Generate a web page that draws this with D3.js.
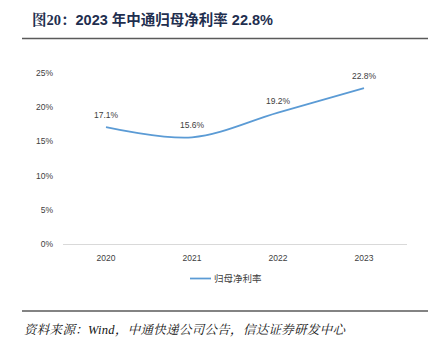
<!DOCTYPE html>
<html><head><meta charset="utf-8">
<script src="https://cdn.jsdelivr.net/npm/d3@7"></script>
<style>body{margin:0;background:#fff}svg{display:block}</style>
</head><body>
<svg id="c" width="441" height="351"></svg>
<script>
const years = ["2020","2021","2022","2023"];
const netMargin = [17.1, 15.6, 19.2, 22.8];
const yTicks = [0,5,10,15,20,25];
const seriesName = "归母净利率";
const titlePrefix = "图20：";
const titleText = "2023 年中通归母净利率 22.8%";
const sourceText = "资料来源：Wind，中通快递公司公告，信达证券研发中心";

const svg = d3.select("#c");
const x = d3.scaleBand().domain(years).range([63,407]);
const y = d3.scaleLinear().domain([0,25]).range([244,73]);
const font = "'Liberation Sans', Arial, 'Noto Sans CJK SC', sans-serif";

const t = svg.append("text").attr("x",32).attr("y",25).attr("font-weight","bold").attr("font-size",14.5).attr("fill","#1f2f4f");
t.append("tspan").attr("font-family","'Liberation Serif','Noto Serif CJK SC','Noto Sans CJK SC',serif").text(titlePrefix);
t.append("tspan").attr("font-family","'Liberation Sans',Arial,'Noto Sans CJK SC',sans-serif").text(titleText);
svg.append("line").attr("x1",22).attr("x2",428).attr("y1",38.5).attr("y2",38.5).attr("stroke","#5a5a5a").attr("stroke-width",1.5);

svg.selectAll(".yt").data(yTicks).join("text").attr("x",53).attr("y",d=>y(d)+3)
  .attr("text-anchor","end").attr("font-family",font).attr("font-size",8.5).attr("fill","#404040").text(d=>d+"%");
svg.append("line").attr("x1",63).attr("x2",407).attr("y1",y(0)+0.5).attr("y2",y(0)+0.5).attr("stroke","#d9d9d9").attr("stroke-width",1);
svg.selectAll(".xt").data(years).join("text").attr("x",d=>x(d)+x.bandwidth()/2).attr("y",261)
  .attr("text-anchor","middle").attr("font-family",font).attr("font-size",8.5).attr("fill","#404040").text(d=>d);

const pts = years.map((yr,i)=>[x(yr)+x.bandwidth()/2, y(netMargin[i])]);
svg.append("path").attr("d", d3.line().curve(d3.curveCatmullRom.alpha(0.5))(pts))
  .attr("fill","none").attr("stroke","#5b9bd5").attr("stroke-width",1.75);

svg.selectAll(".lbl").data(years).join("text").attr("x",d=>x(d)+x.bandwidth()/2)
  .attr("y",(d,i)=>y(netMargin[i])-9).attr("text-anchor","middle").attr("font-family",font)
  .attr("font-size",8.5).attr("fill","#404040").text((d,i)=>netMargin[i].toFixed(1)+"%");

svg.append("line").attr("x1",190).attr("x2",211).attr("y1",278.5).attr("y2",278.5).attr("stroke","#5b9bd5").attr("stroke-width",1.75);
svg.append("text").attr("x",214).attr("y",282).attr("font-family","'Noto Sans CJK SC',sans-serif").attr("font-size",9.5).attr("fill","#404040").text(seriesName);

svg.append("line").attr("x1",22).attr("x2",428).attr("y1",311).attr("y2",311).attr("stroke","#5a5a5a").attr("stroke-width",1.5);
svg.append("text").attr("x",24).attr("y",334).attr("font-family","'Liberation Serif','Noto Serif CJK SC','Noto Sans CJK SC',serif")
  .attr("font-style","italic").attr("font-size",12.5).attr("letter-spacing",0.3).attr("fill","#111").text(sourceText);
</script>
</body></html>
